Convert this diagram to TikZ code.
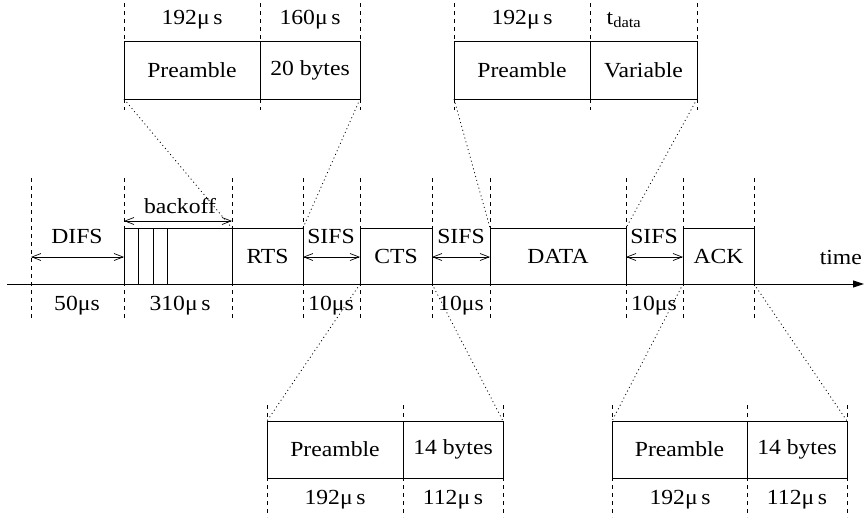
\documentclass[tikz,border=0pt]{standalone}
\usepackage{fontspec}
\setmainfont{Liberation Serif}[FakeStretch=1.1]
\usetikzlibrary{arrows.meta}
\begin{document}
\begin{tikzpicture}[x=1pt,y=-1pt,
  every node/.style={font=\fontsize{21.5}{25}\selectfont},
  frame/.style={draw, line width=0.9pt, inner sep=0pt, outer sep=0pt, anchor=north west},
  vdash/.style={dash pattern=on 4pt off 4pt, line width=0.7pt},
  zoomline/.style={dash pattern=on 1pt off 3pt, line width=0.8pt},
  dim/.style={{Straight Barb[length=9pt,width=7pt]}-{Straight Barb[length=9pt,width=7pt]}, line width=0.7pt},
  lbl/.style={inner sep=0pt}]
\useasboundingbox (0,0) rectangle (864,517);

% timeline boxes
\node[frame, minimum width=108pt, minimum height=56pt] (bo) at (124,228) {};
\node[frame, minimum width=71pt, minimum height=56pt] (rts) at (232,228) {RTS};
\node[frame, minimum width=72pt, minimum height=56pt] (cts) at (360,228) {CTS};
\node[frame, minimum width=136pt, minimum height=56pt] (data) at (490,228) {DATA};
\node[frame, minimum width=71pt, minimum height=56pt] (ack) at (683,228) {ACK};
\draw[line width=0.9pt] (138,228) -- (138,284) (153,228) -- (153,284) (167,228) -- (167,284);

% time axis
\coordinate (t0) at (7,284);
\coordinate (t1) at (864,284);
\draw[line width=1pt, -{Triangle[length=11pt,width=7pt]}] (t0) -- (t1);
\node[lbl, anchor=east] (time) at (862,257) {time};

% dashed verticals on timeline
\foreach \x in {31,124,232,303,360,432,490,626,683,754}
  \draw[vdash] (\x,178) -- (\x,320);

% dimension arrows
\coordinate (d0) at (31,257); \coordinate (d1) at (124,257);
\draw[dim] (d0) -- (d1);
\coordinate (b0) at (124,221); \coordinate (b1) at (232,221);
\draw[dim] (b0) -- (b1);
\coordinate (s0) at (303,257); \coordinate (s1) at (360,257);
\draw[dim] (s0) -- (s1);
\coordinate (s2) at (432,257); \coordinate (s3) at (490,257);
\draw[dim] (s2) -- (s3);
\coordinate (s4) at (626,257); \coordinate (s5) at (683,257);
\draw[dim] (s4) -- (s5);

% labels on timeline
\node[lbl] (difs) at (77,236) {DIFS};
\node[lbl] (backoff) at (180,206) {backoff};
\node[lbl] (sifs1) at (331,236) {SIFS};
\node[lbl] (sifs2) at (461,236) {SIFS};
\node[lbl] (sifs3) at (654,236) {SIFS};
\node[lbl] (l50) at (77,306) {50μs};
\node[lbl] (l310) at (180,306) {310μ\,s};
\node[lbl] (l10a) at (331,306) {10μs};
\node[lbl] (l10b) at (461,306) {10μs};
\node[lbl] (l10c) at (654,306) {10μs};

% top frame 1 (RTS)
\node[frame, minimum width=136pt, minimum height=58pt] (p1) at (124,41) {Preamble};
\node[frame, minimum width=100pt, minimum height=58pt] (f1) at (260,41) {20 bytes};
\foreach \x in {124,260,360} \draw[vdash] (\x,3) -- (\x,110);
\node[lbl] at (192,20) {192μ\,s};
\node[lbl] at (310,20) {160μ\,s};

% top frame 2 (DATA)
\node[frame, minimum width=136pt, minimum height=58pt] (p2) at (454,41) {Preamble};
\node[frame, minimum width=107pt, minimum height=58pt] (f2) at (590,41) {Variable};
\foreach \x in {454,590,697} \draw[vdash] (\x,3) -- (\x,110);
\node[lbl] at (522,20) {192μ\,s};
\node[lbl] at (624,20) {t\textsubscript{data}};

% bottom frame 3 (CTS)
\node[frame, minimum width=136pt, minimum height=57pt] (p3) at (267,421) {Preamble};
\node[frame, minimum width=100pt, minimum height=57pt] (f3) at (403,421) {14 bytes};
\foreach \x in {267,403,503} \draw[vdash] (\x,405) -- (\x,517);
\node[lbl] at (335,500) {192μ\,s};
\node[lbl] at (453,500) {112μ\,s};

% bottom frame 4 (ACK)
\node[frame, minimum width=135pt, minimum height=57pt] (p4) at (612,421) {Preamble};
\node[frame, minimum width=100pt, minimum height=57pt] (f4) at (747,421) {14 bytes};
\foreach \x in {612,747,847} \draw[vdash] (\x,405) -- (\x,517);
\node[lbl] at (680,500) {192μ\,s};
\node[lbl] at (797,500) {112μ\,s};

% zoom lines
\draw[zoomline] (p1.south west) -- (rts.north west);
\draw[zoomline] (f1.south east) -- (rts.north east);
\draw[zoomline] (p2.south west) -- (data.north west);
\draw[zoomline] (f2.south east) -- (data.north east);
\draw[zoomline] (cts.south west) -- (p3.north west);
\draw[zoomline] (cts.south east) -- (f3.north east);
\draw[zoomline] (ack.south west) -- (p4.north west);
\draw[zoomline] (ack.south east) -- (f4.north east);
\end{tikzpicture}
\end{document}
